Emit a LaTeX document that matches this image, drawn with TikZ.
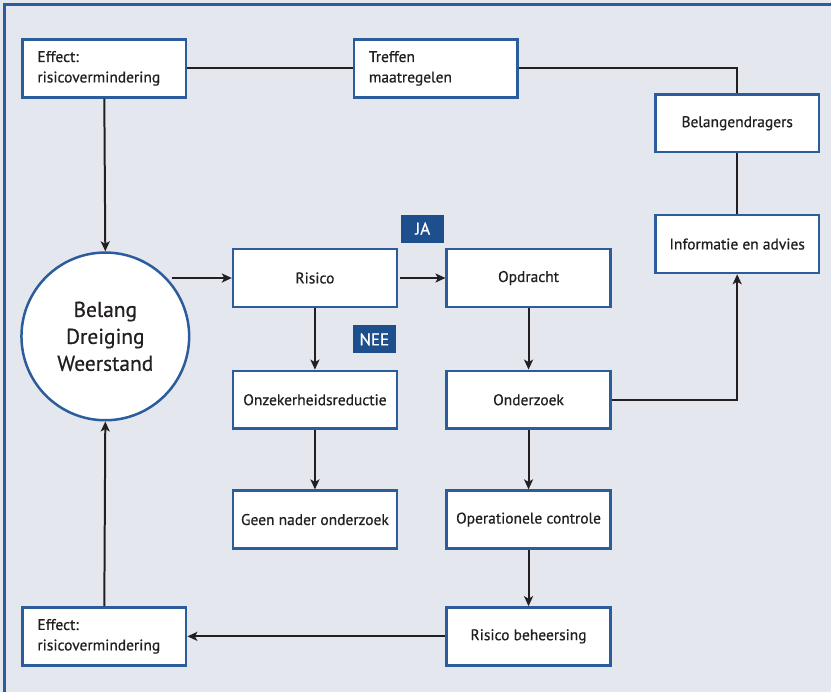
\documentclass[tikz,border=0pt]{standalone}
\usepackage{fontspec}
\setmainfont{PT Sans}
\newfontfamily\boxfont[FakeBold=0.6]{PT Sans}
\usetikzlibrary{arrows.meta, positioning, calc}
\definecolor{panelgray}{HTML}{E4E7EE}
\definecolor{frameblue}{HTML}{2B5C9B}
\definecolor{tagblue}{HTML}{1D4F8C}
\definecolor{linedark}{HTML}{231F20}
\tikzset{
  stepbox/.style={draw=frameblue, line width=2.5pt, fill=white, minimum width=164pt, minimum height=58pt,
    align=center, text=linedark, font=\boxfont\fontsize{15.5}{20.5}\selectfont},
  notebox/.style={stepbox, align=left, text width=134pt, inner xsep=15pt},
  hubcircle/.style={circle, draw=frameblue, line width=2.5pt, fill=white, minimum size=168pt,
    align=center, text=linedark, font=\boxfont\fontsize{21.5}{27}\selectfont},
  tagbox/.style={fill=tagblue, text=white, minimum width=43pt, minimum height=28pt, inner sep=0pt,
    font=\boxfont\fontsize{17}{17}\selectfont},
  link/.style={draw=linedark, line width=2pt},
  flow/.style={link, -{Stealth[length=10pt, width=9pt, inset=2.5pt]}}
}

\begin{document}
\begin{tikzpicture}[x=1pt, y=-1pt]
  % Panel background and frame
  \fill[panelgray] (0,0) rectangle (832,693);
  \draw[frameblue, line width=3pt] (5,693) -- (5,5) -- (832,5);
  \useasboundingbox (0,0) rectangle (832,693);

  % Left column
  \node[notebox] (eff1) at (104.5,68.5) {Effect:\\risicovermindering};
  \node[hubcircle] (hub) at (105.5,337) {Belang\\Dreiging\\Weerstand};
  \node[notebox] (eff2) at (104.5,637.5) {Effect:\\risicovermindering};

  % Middle columns
  \node[notebox] (treffen) at (436.5,68.5) {Treffen\\maatregelen};
  \node[stepbox] (risico) at (315.5,278.5) {Risico};
  \node[stepbox] (onzeker) at (315.5,400.5) {Onzekerheidsreductie};
  \node[stepbox] (geen) at (315.5,520.5) {Geen nader onderzoek};
  \node[stepbox] (opdracht) at (529.5,278.5) {Opdracht};
  \node[stepbox] (onderzoek) at (529.5,400.5) {Onderzoek};
  \node[stepbox] (controle) at (529.5,520.5) {Operationele controle};
  \node[stepbox] (beheersing) at (529.5,637.5) {Risico beheersing};

  % Right column
  \node[stepbox] (dragers) at (738.5,123.5) {Belangendragers};
  \node[stepbox] (advies) at (738.5,244.5) {Informatie en advies};

  % Decision tags
  \node[tagbox] (ja) at (423.5,229) {JA};
  \node[tagbox] (nee) at (375,340) {NEE};

  % Connectors
  \coordinate (hubout) at (172,278.5);
  \draw[link] (eff1.east) -- (treffen.west);
  \draw[link] (treffen.east) -| (dragers.north);
  \draw[link] (dragers.south) -- (advies.north);
  \draw[flow] (eff1.south) -- (hub.north);
  \draw[flow] (hubout) -- (risico.west);
  \draw[flow, shorten <=2pt] (risico.east) -- (opdracht.west);
  \draw[flow] (risico.south) -- (onzeker.north);
  \draw[flow] (onzeker.south) -- (geen.north);
  \draw[flow] (opdracht.south) -- (onderzoek.north);
  \draw[flow] (onderzoek.east) -| (advies.south);
  \draw[flow] (onderzoek.south) -- (controle.north);
  \draw[flow] (controle.south) -- (beheersing.north);
  \draw[flow] (beheersing.west) -- (eff2.east);
  \draw[flow] (eff2.north) -- (hub.south);
\end{tikzpicture}
\end{document}
